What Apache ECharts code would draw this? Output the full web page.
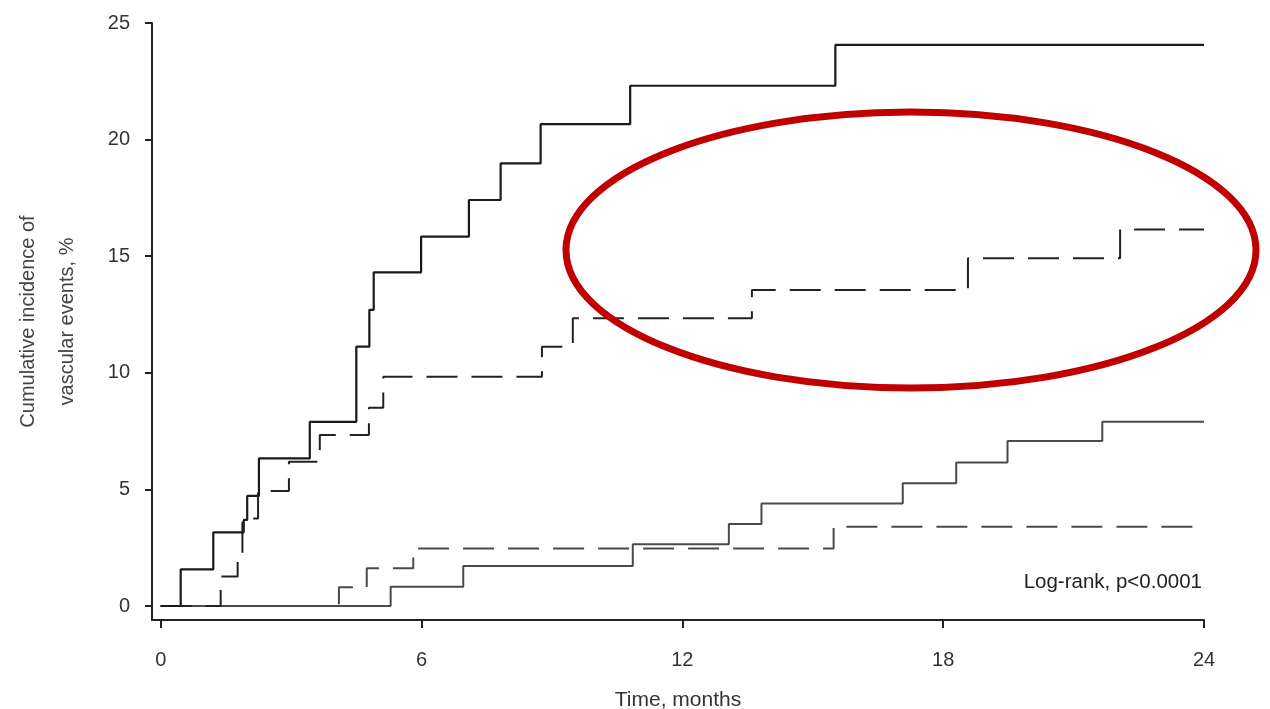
<!DOCTYPE html>
<html>
<head>
<meta charset="utf-8">
<title>Cumulative incidence of vascular events</title>
<script src="https://cdn.jsdelivr.net/npm/echarts@6.0.0/dist/echarts.min.js"></script>
<style>
  html, body { margin: 0; padding: 0; background: #fff; }
  #main { width: 1270px; height: 709px; }
</style>
</head>
<body>
<div id="main"></div>
<script>
// ticks
var xTicks = [0, 6, 12, 18, 24];
var yTicks = [0, 5, 10, 15, 20, 25];

// upper solid curve (months, %)
var upperSolidT = [0, 0.46, 1.21, 1.91, 1.99, 2.26, 3.43, 4.50, 4.80, 4.90, 5.99, 7.09, 7.82, 8.74, 10.80, 15.52, 24];
var upperSolidV = [0, 1.57, 3.16, 3.69, 4.72, 6.33, 7.90, 11.12, 12.70, 14.31, 15.84, 17.41, 18.98, 20.66, 22.31, 24.06, 24.06];

// upper dashed curve
var upperDashT = [0, 1.38, 1.77, 1.88, 2.24, 2.95, 3.66, 4.79, 5.12, 8.77, 9.48, 13.60, 18.57, 22.07, 24];
var upperDashV = [0, 1.26, 2.19, 3.75, 4.93, 6.19, 7.33, 8.50, 9.83, 11.12, 12.34, 13.55, 14.91, 16.15, 16.15];

// lower solid curve
var lowerSolidT = [0, 5.29, 6.96, 10.86, 13.07, 13.82, 17.07, 18.30, 19.48, 21.66, 24];
var lowerSolidV = [0, 0.83, 1.72, 2.65, 3.52, 4.40, 5.26, 6.15, 7.08, 7.90, 7.90];

// lower dashed curve
var lowerDashT = [0, 4.10, 4.74, 5.81, 15.48, 24];
var lowerDashV = [0, 0.80, 1.62, 2.47, 3.40, 3.40];

var fontFam = "'Liberation Sans', Arial, sans-serif";

function pairs(t, v) {
    var out = [];
    for (var i = 0; i < t.length; i++) out.push([t[i], v[i]]);
    return out;
}

function stepSeries(t, v, color, width, type, z) {
    return {
        type: 'line',
        step: 'end',
        showSymbol: false,
        symbol: 'none',
        z: z,
        lineStyle: { color: color, width: width, type: type },
        data: pairs(t, v)
    };
}

var chart = echarts.init(document.getElementById('main'));

chart.setOption({
    animation: false,
    backgroundColor: '#fff',
    grid: { left: 152, right: 66, top: 23, bottom: 89, containLabel: false, outerBoundsMode: 'none' },
    xAxis: {
        type: 'value',
        min: -0.2,
        max: 24,
        name: 'Time, months',
        nameLocation: 'middle',
        nameGap: 70,
        nameTextStyle: { fontFamily: fontFam, fontSize: 21, color: '#333' },
        axisLine: { onZero: false, lineStyle: { color: '#222', width: 2 } },
        axisTick: { show: true, length: 8, customValues: xTicks, lineStyle: { color: '#222', width: 2 } },
        axisLabel: { customValues: xTicks, margin: 30, fontFamily: fontFam, fontSize: 20, color: '#333' },
        splitLine: { show: false }
    },
    yAxis: {
        type: 'value',
        min: -0.6,
        max: 25,
        name: 'Cumulative incidence of\nvascular events, %',
        nameLocation: 'middle',
        nameRotate: 90,
        nameGap: 65,
        nameTextStyle: { fontFamily: fontFam, fontSize: 20, lineHeight: 39, color: '#444', align: 'center' },
        axisLine: { onZero: false, lineStyle: { color: '#222', width: 2 } },
        axisTick: { show: true, length: 7, customValues: yTicks, lineStyle: { color: '#222', width: 2 } },
        axisLabel: { customValues: yTicks, margin: 22, fontFamily: fontFam, fontSize: 20, color: '#333' },
        splitLine: { show: false }
    },
    series: [
        stepSeries(lowerDashT, lowerDashV, '#4a4a4a', 2, [31, 14], 2),
        stepSeries(lowerSolidT, lowerSolidV, '#4a4a4a', 2, 'solid', 3),
        stepSeries(upperDashT, upperDashV, '#222', 2, [31, 14], 4),
        stepSeries(upperSolidT, upperSolidV, '#1a1a1a', 2.2, 'solid', 5)
    ],
    graphic: [
        {
            type: 'text',
            right: 68,
            top: 572,
            style: { text: 'Log-rank, p<0.0001', fontFamily: fontFam, fontSize: 20.5, fill: '#222' }
        },
        {
            type: 'ellipse',
            z: 100,
            shape: { cx: 911, cy: 250, rx: 345, ry: 138 },
            style: { fill: 'none', stroke: '#c00000', lineWidth: 7 }
        }
    ]
});
</script>
</body>
</html>
